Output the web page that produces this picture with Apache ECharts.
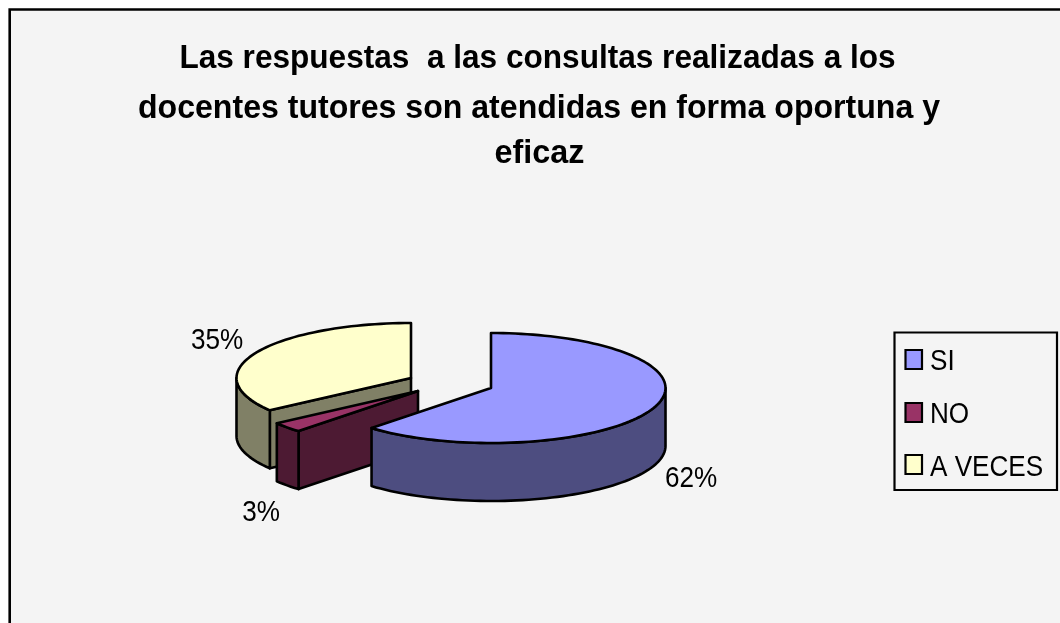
<!DOCTYPE html>
<html><head><meta charset="utf-8">
<style>html,body{margin:0;padding:0;background:#fff}#c{width:1060px;height:623px}</style>
<script src="https://cdn.jsdelivr.net/npm/echarts@6/dist/echarts.min.js"></script>
</head><body><div id="c"></div>
<script>
const titleLines = ['Las respuestas  a las consultas realizadas a los','docentes tutores son atendidas en forma oportuna y','eficaz'];
const categories = ['SI','NO','A VECES'];
const values = [62,3,35];
const topColors = ['#9999FF','#993366','#FFFFCC'];
const sideColors = ['#4D4D80','#4D1A33','#808066'];

// layout of the exploded 3D pie (pixels)
const centers = [[491,388],[418,391],[411,378]];
const labelPos = [[691,479],[261,513],[217,341]];
const RX = 174.5, RY = 55, DEPTH = 58;
const total = values.reduce((a,b)=>a+b,0);
const FONT = '"Liberation Sans"';
const LINE_W = 2.6;

function pt(c,t,dy){ return [c[0]+RX*Math.sin(t), c[1]-RY*Math.cos(t)+(dy||0)]; }
function arc(c,a,b,dy){ const n=Math.max(2,Math.ceil((b-a)/(Math.PI/90))); const r=[]; for(let i=0;i<=n;i++) r.push(pt(c,a+(b-a)*i/n,dy)); return r; }

function makeRender(idx){
  return function(params, api){
    const v = api.value(0);
    let before = 0; for(let i=0;i<idx;i++) before += values[i];
    const a = before/total*2*Math.PI, b = (before+v)/total*2*Math.PI;
    const c = centers[idx];
    const stroke = {stroke:'#000',lineWidth:LINE_W,lineJoin:'round'};
    const children = [];
    const sideStyle = Object.assign({fill:sideColors[idx]},stroke);
    const wall = (t)=>{ const p=pt(c,t); children.push({type:'polygon',shape:{points:[c,p,[p[0],p[1]+DEPTH],[c[0],c[1]+DEPTH]]},style:sideStyle}); };
    if(idx===1) wall(a);
    if(idx===2) wall(a);
    const fa=Math.max(a,Math.PI/2), fb=Math.min(b,Math.PI*1.5);
    if(fb>fa){
      const top=arc(c,fa,fb), bot=arc(c,fa,fb,DEPTH).reverse();
      children.push({type:'polygon',shape:{points:top.concat(bot)},style:sideStyle});
    }
    children.push({type:'polygon',shape:{points:[c].concat(arc(c,a,b))},style:Object.assign({fill:topColors[idx]},stroke)});
    children.push({type:'text',x:labelPos[idx][0],y:labelPos[idx][1],scaleX:0.87,
      style:{text:v+'%',font:'30px '+FONT,fill:'#000',align:'center',verticalAlign:'middle'}});
    return {type:'group',children};
  };
}
const legendSwatchY=[350,403,455], legendTextY=[362,415,468];
const order=[2,1,0];
const chart = echarts.init(document.getElementById('c'),null,{renderer:'canvas'});
chart.setOption({
  animation:false,
  backgroundColor:'#fff',
  graphic:[
    {type:'rect',z:-10,shape:{x:9.7,y:9.5,width:1100,height:700},style:{fill:'#F4F4F4',stroke:'#000',lineWidth:2.6}},
    ...titleLines.map((t,i)=>({type:'text',z:5,x:[537.5,539,539.5][i],y:[59,109,154][i],scaleX:[0.957,0.972,0.98][i],
      style:{text:t,font:'bold 33px '+FONT,fill:'#000',align:'center',verticalAlign:'middle'}})),
    {type:'rect',z:5,shape:{x:894.5,y:332.5,width:162.5,height:157.5},style:{fill:'#F4F4F4',stroke:'#000',lineWidth:2.2}},
    ...categories.map((t,i)=>({type:'rect',z:6,shape:{x:905.5,y:legendSwatchY[i],width:16.5,height:19},style:{fill:topColors[i],stroke:'#000',lineWidth:2.2}})),
    ...categories.map((t,i)=>({type:'text',z:6,x:930,y:legendTextY[i],scaleX:0.87,
      style:{text:t,font:'30px '+FONT,fill:'#000',align:'left',verticalAlign:'middle'}}))
  ],
  series:order.map(i=>({type:'custom',name:categories[i],coordinateSystem:'none',silent:true,
    itemStyle:{color:topColors[i]},data:[[values[i]]],renderItem:makeRender(i)}))
});
</script></body></html>
